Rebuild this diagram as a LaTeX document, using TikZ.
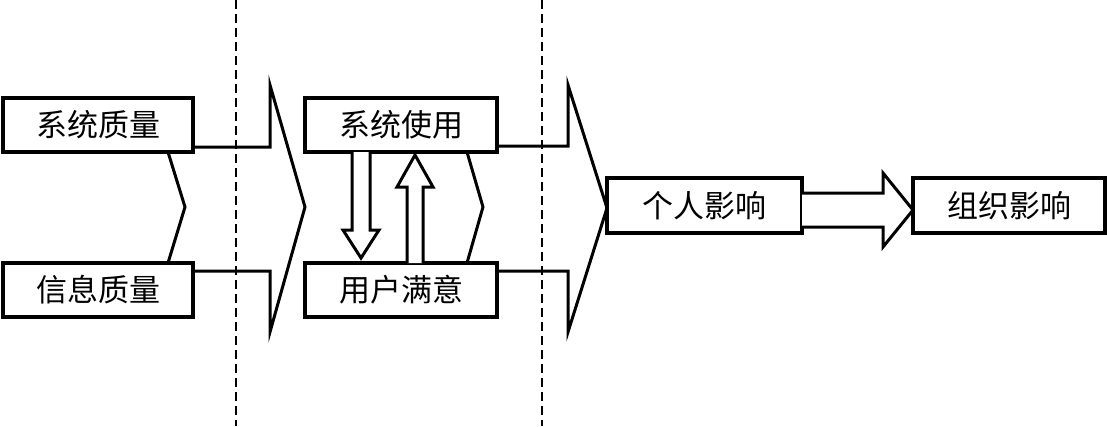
\documentclass[tikz,border=0pt]{standalone}
\usepackage{fontspec}
\newfontfamily\cjk{Noto Sans CJK SC}
\usetikzlibrary{calc}
\begin{document}
\begin{tikzpicture}[x=1pt,y=-1pt,
  box/.style={draw,line width=3.2pt,minimum height=54pt,inner sep=0pt,outer sep=0pt,font=\cjk\fontsize{31}{31}\selectfont},
  conn/.style={line width=3pt,line join=miter},
  blockarrow/.style={line width=3pt,line join=miter,fill=white},
  divider/.style={line width=1.3pt,dash pattern=on 9pt off 5pt}]
\useasboundingbox (0,0) rectangle (1107,426);
% dividers
\draw[divider] (236,0) -- (236,426);
\draw[divider] (542,0) -- (542,426);
% boxes
\node[box,minimum width=190pt] (sq) at (98,125) {系统质量};
\node[box,minimum width=190pt] (iq) at (98,290) {信息质量};
\node[box,minimum width=192pt] (su) at (401,125) {系统使用};
\node[box,minimum width=192pt] (us) at (401,290) {用户满意};
\node[box,minimum width=195pt,minimum height=55pt] (ii) at (704.5,205.5) {个人影响};
\node[box,minimum width=192pt,minimum height=55pt] (oi) at (1009,205.5) {组织影响};
% left bracket
\draw[conn] ($(sq.south east)+(-25,0)$) -- (185,207) -- ($(iq.north east)+(-25,0)$);
% chevron 1
\draw[conn] (sq.east |- 0,147) -- (270,147) -- (270,85) -- (su.west |- 0,207)
  -- (270,332) -- (270,271) -- (iq.east |- 0,271);
% middle bracket
\draw[conn] ($(su.south east)+(-30,0)$) -- (483,207) -- ($(us.north east)+(-30,0)$);
% chevron 2
\draw[conn] (su.east |- 0,146) -- (568,146) -- (568,85) -- (ii.west |- 0,208)
  -- (568,332) -- (568,271) -- (us.east |- 0,271);
% down block arrow
\draw[blockarrow] ($(su.south)+(-49,0)$) -- (352,230) -- (343,230) -- (361,258)
  -- (379,230) -- (370,230) -- ($(su.south)+(-31,0)$);
% up block arrow
\draw[blockarrow] ($(us.north)+(6,0)$) -- (407,187) -- (397,187) -- (415,155)
  -- (433,187) -- (423,187) -- ($(us.north)+(22,0)$);
% horizontal block arrow
\draw[blockarrow] (ii.east |- 0,193) -- (883,193) -- (883,173) -- (oi.west |- 0,210)
  -- (883,247) -- (883,227) -- (ii.east |- 0,227);
\end{tikzpicture}
\end{document}
